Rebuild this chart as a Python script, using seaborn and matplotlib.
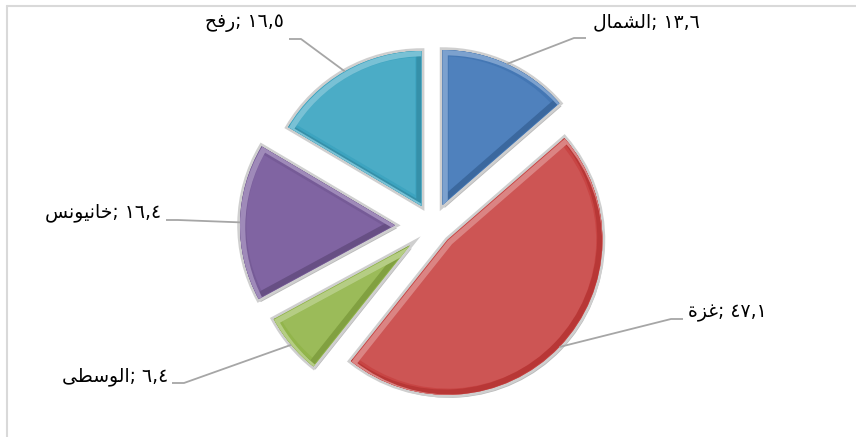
import matplotlib
matplotlib.use("Agg")
import matplotlib.pyplot as plt
from matplotlib.patches import Wedge
import colorsys
import seaborn as sns
import numpy as np

# data
regions = ["الشمال", "غزة", "الوسطى", "خانيونس", "رفح"]
shares = [13.6, 47.1, 6.4, 16.4, 16.5]
colors = ["#4F81BD", "#CD5554", "#9BBB59", "#8064A2", "#4BACC6"]

# minimal arabic shaping (matplotlib has no complex text layout)
FORMS = {  # isolated, final, initial, medial
    'ا': ('\uFE8D', '\uFE8E', None, None),
    'ل': ('\uFEDD', '\uFEDE', '\uFEDF', '\uFEE0'),
    'ش': ('\uFEB5', '\uFEB6', '\uFEB7', '\uFEB8'),
    'م': ('\uFEE1', '\uFEE2', '\uFEE3', '\uFEE4'),
    'غ': ('\uFECD', '\uFECE', '\uFECF', '\uFED0'),
    'ز': ('\uFEAF', '\uFEB0', None, None),
    'ة': ('\uFE93', '\uFE94', None, None),
    'و': ('\uFEED', '\uFEEE', None, None),
    'س': ('\uFEB1', '\uFEB2', '\uFEB3', '\uFEB4'),
    'ط': ('\uFEC1', '\uFEC2', '\uFEC3', '\uFEC4'),
    'ى': ('\uFEEF', '\uFEF0', None, None),
    'خ': ('\uFEA5', '\uFEA6', '\uFEA7', '\uFEA8'),
    'ن': ('\uFEE5', '\uFEE6', '\uFEE7', '\uFEE8'),
    'ي': ('\uFEF1', '\uFEF2', '\uFEF3', '\uFEF4'),
    'ر': ('\uFEAD', '\uFEAE', None, None),
    'ف': ('\uFED1', '\uFED2', '\uFED3', '\uFED4'),
    'ح': ('\uFEA1', '\uFEA2', '\uFEA3', '\uFEA4'),
}


def shape(word):
    out = []
    for i, ch in enumerate(word):
        f = FORMS[ch]
        prev_joins = i > 0 and FORMS[word[i - 1]][2] is not None
        next_joins = f[2] is not None and i < len(word) - 1
        if prev_joins and next_joins:
            out.append(f[3])
        elif prev_joins:
            out.append(f[1])
        elif next_joins:
            out.append(f[2])
        else:
            out.append(f[0])
    return ''.join(reversed(out))


def shade(c, dl):
    h, l, s = colorsys.rgb_to_hls(*matplotlib.colors.to_rgb(c))
    return sns.set_hls_values(c, l=min(1.0, max(0.0, l + dl)))


DIGITS = str.maketrans('0123456789', '٠١٢٣٤٥٦٧٨٩')
labels = [shape(r) + '; ' + f"{v:.1f}".replace('.', ',').translate(DIGITS)
          for r, v in zip(regions, shares)]

sns.set_theme(style="white")
plt.rcParams['font.family'] = ['DejaVu Sans']

W, H = 856, 437
fig = plt.figure(figsize=(W / 100, H / 100), dpi=100)
ax = fig.add_axes([0, 0, 1, 1])

center = (433, H - 226)
radius = 155
explode = [23, 20, 30, 38, 23]

# shadow and thin grey outline behind the slices
ax.pie(shares, colors=['#9c9c9c'] * 5, startangle=90, counterclock=False,
       radius=radius, center=(center[0] + 2, center[1] - 3), explode=explode,
       wedgeprops=dict(linewidth=0, alpha=0.7))
ax.pie(shares, colors=['#cfcfcf'] * 5, startangle=90, counterclock=False,
       radius=radius, center=center, explode=explode,
       wedgeprops=dict(linewidth=4, edgecolor='#cfcfcf'))
wedges, _ = ax.pie(shares, colors=colors, startangle=90, counterclock=False,
                   radius=radius, center=center, explode=explode,
                   wedgeprops=dict(linewidth=0))

# bevel look: soft inner rim, light on upper-left edges, dark on lower-right
for w, c in zip(wedges, colors):
    cx, cy = w.center
    for (dx, dy), col, lw in [((0, 0), shade(c, -0.04), 9),
                              ((-2.5, 2.5), shade(c, -0.10), 4),
                              ((2.5, -2.5), shade(c, 0.12), 4)]:
        p = Wedge((cx + dx, cy + dy), w.r, w.theta1, w.theta2,
                  fc='none', ec=col, lw=lw)
        ax.add_patch(p)
        p.set_clip_path(w)

# label placement (image pixel coords): text anchor, line end near text
text_pos = [(593, 22, 'left'), (688, 312, 'left'), (168, 376, 'right'),
            (161, 212, 'right'), (284, 23, 'right')]
line_end = [(586, 38), (683, 319), (172, 383), (166, 220), (289, 39)]

for w, lab, (tx, ty, ha), (lx, ly) in zip(wedges, labels, text_pos, line_end):
    tm = np.deg2rad((w.theta1 + w.theta2) / 2)
    px = w.center[0] + w.r * np.cos(tm)
    py = w.center[1] + w.r * np.sin(tm)
    knee = lx - 12 if ha == 'left' else lx + 12
    ax.plot([px, knee, lx], [py, H - ly, H - ly], color='#A6A6A6', lw=1.3,
            solid_capstyle='butt')
    ax.text(tx, H - ty, lab, ha=ha, va='center', fontsize=13.5, color='black')

# chart-area frame (only left and top edges visible)
ax.plot([7, 7], [0, H - 6], color='#D9D9D9', lw=1.5)
ax.plot([7, W], [H - 6, H - 6], color='#D9D9D9', lw=1.5)

ax.set_xlim(0, W)
ax.set_ylim(0, H)
ax.set_aspect('auto')
ax.axis('off')

fig.savefig('out.png', dpi=100)
